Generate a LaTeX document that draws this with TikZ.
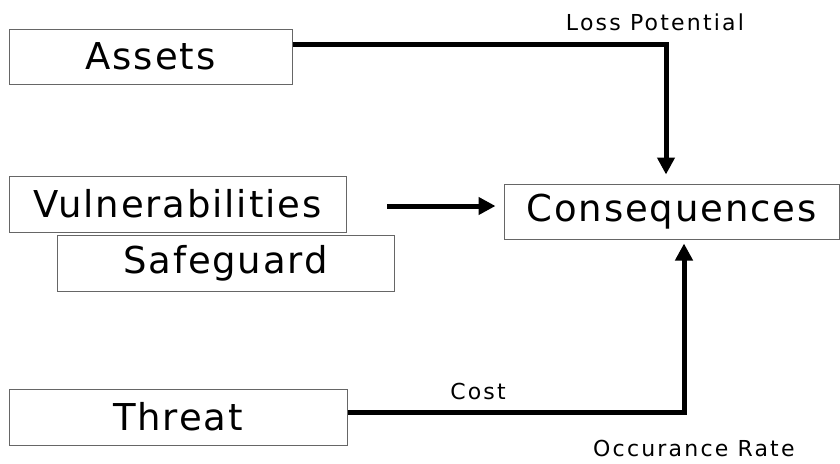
\documentclass[tikz,border=0pt]{standalone}
\usepackage{fontspec}
\usetikzlibrary{arrows.meta,calc}
\newfontfamily\bigf[LetterSpace=5]{DejaVu Sans}
\newfontfamily\smallf[LetterSpace=10]{DejaVu Sans}
\begin{document}
\begin{tikzpicture}[x=1pt,y=-1pt,
  box/.style={draw=black!60,line width=1pt,inner sep=0pt,font=\bigf\fontsize{37}{40}\selectfont},
  lbl/.style={inner sep=0pt,font=\smallf\fontsize{22}{24}\selectfont},
  conn/.style={line width=5pt,-{Triangle[length=17pt,width=17pt]}}]
\useasboundingbox (0,0) rectangle (840,463);
\node[box,minimum width=283pt,minimum height=55pt] (assets) at (150.5,56.5) {Assets};
\node[box,minimum width=337pt,minimum height=56pt] (vuln) at (177.5,204) {Vulnerabilities};
\node[box,minimum width=337pt,minimum height=56pt] (safe) at (225.5,263) {Safeguard};
\node[box,minimum width=338pt,minimum height=56pt] (threat) at (178,417) {Threat};
\node[box,minimum width=335pt,minimum height=55pt] (cons) at (671.5,211.5) {Consequences};
\node[lbl] (loss) at (655,22) {Loss Potential};
\node[lbl] (cost) at (478,391) {Cost};
\node[lbl,anchor=west] (occ) at (593,448) {Occurance Rate};
\coordinate (vstart) at (387,206);
\draw[conn,shorten >=9pt] ($(assets.east)+(0,-12.5)$) -| ([xshift=-5.5pt]cons.north);
\draw[conn,shorten >=8pt] (vstart) -- (vstart -| cons.west);
\draw[conn,shorten >=4pt] ($(threat.east)+(0,-5)$) -| ([xshift=12.5pt]cons.south);
\end{tikzpicture}
\end{document}
